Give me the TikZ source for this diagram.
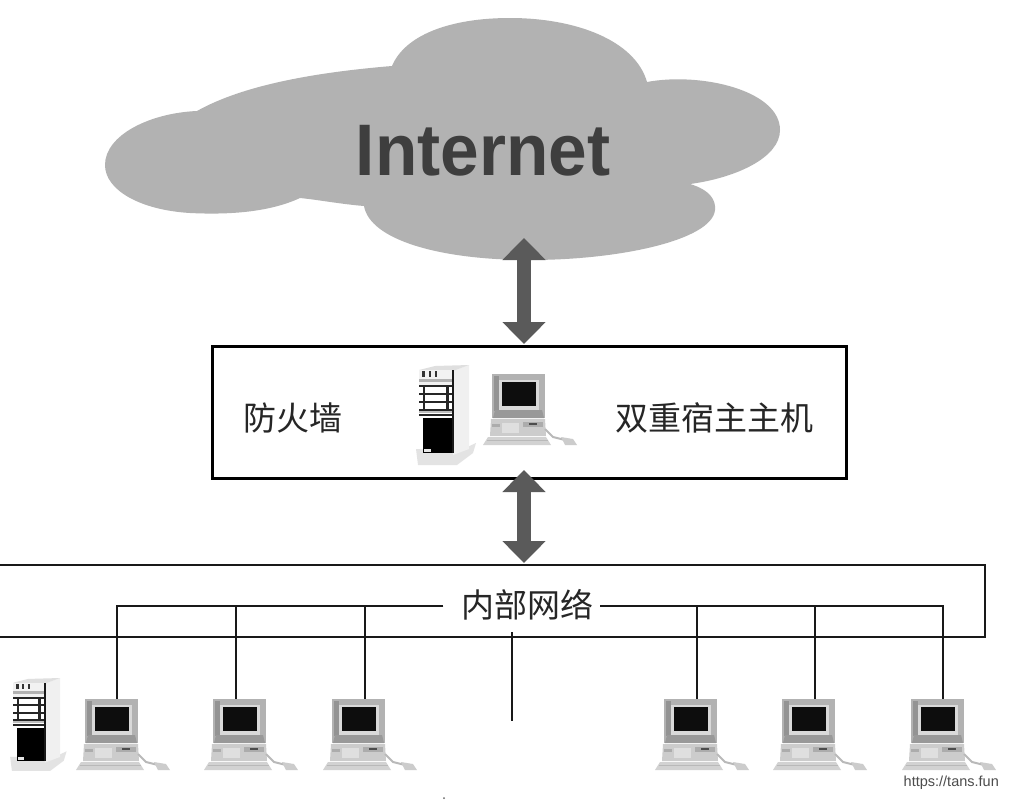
\documentclass[tikz,border=0pt]{standalone}
\usepackage{fontspec}
\setmainfont{Liberation Sans}
\newfontfamily\cjk{Noto Sans CJK SC}
\usetikzlibrary{arrows.meta}
\definecolor{cloudgray}{HTML}{B2B2B2}
\definecolor{arrowgray}{HTML}{5A5A5A}
\definecolor{inkgray}{HTML}{3E3E3E}
\tikzset{
  x=1pt,y=-1pt,
  boxline/.style={draw=black,line width=2.8pt,fill=white,minimum width=634pt,minimum height=132pt,inner sep=0pt},
  netline/.style={draw=black!90,line width=1.8pt},
  dblarrow/.style={draw=arrowgray,line width=14pt,{Triangle[length=22pt,width=42pt]}-{Triangle[length=22pt,width=42pt]},shorten <=0pt,shorten >=0pt},
  cnlabel/.style={font=\cjk\fontsize{33}{33}\selectfont,text=black!85,inner sep=0pt},
  computer/.pic={
    \fill[gray!60] (-1,-1) rectangle (52,43);
    \fill[gray!85] (1,1) rectangle (6,36);
    \fill[gray!30] (6,5) rectangle (46,35);
    \fill[black!95] (9,7) rectangle (43,31);
    \fill[gray!80] (2,35) -- (49,35) -- (51,43) -- (0,43) -- cycle;
    \fill[gray!40] (-2,44) -- (52,44) -- (53,61) -- (-3,61) -- cycle;
    \fill[gray!65] (30,47) rectangle (50,52);
    \fill[black!70] (36,48) rectangle (44,50);
    \fill[gray!25] (9,48) rectangle (26,58);
    \fill[gray!65] (-1,49) rectangle (7,52);
    \fill[gray!35] (-5,62) -- (53,62) -- (58,70) -- (-10,70) -- cycle;
    \fill[gray!55] (-6,65) rectangle (55,66);
    \draw[gray!55,line width=2pt] (52,54) -- (60,62) -- (72,65);
    \fill[gray!40] (68,62) -- (80,64) -- (84,70) -- (72,70) -- cycle;
  },
  server/.pic={
    \fill[gray!22] (-3,84) -- (44,84) -- (57,78) -- (54,88) -- (38,100) -- (-1,100) -- cycle;
    \fill[gray!12] (34,6) -- (50,0) -- (50,84) -- (34,90) -- cycle;
    \fill[gray!25] (0,5) -- (16,1) -- (50,0) -- (34,6) -- cycle;
    \fill[gray!10] (0,5) rectangle (34,22);
    \fill[black] (4,53) rectangle (34,88);
    \fill[black!80] (3,6) rectangle (6,12);
    \fill[black!80] (10,6) rectangle (12,12);
    \fill[black!80] (16,6) rectangle (18,12);
    \fill[gray!60] (0,14) rectangle (33,17);
    \foreach \yy in {20,28,36,44,49}{\fill[black!85] (0,\yy) rectangle (33,\yy+2.2);}
    \fill[black!85] (4,20) rectangle (6,44);
    \fill[black!85] (27,20) rectangle (30,46);
    \fill[gray!50] (0,46) rectangle (33,48);
    \fill[black!90] (33,5) rectangle (35,88);
    \fill[gray!20] (5,84) rectangle (12,87);
  }
}
\begin{document}
\begin{tikzpicture}
\useasboundingbox (0,0) rectangle (1009,801);
\clip (0,0) rectangle (1009,801);
\fill[white] (0,0) rectangle (1009,801);
% cloud
\fill[cloudgray] (105,165)
  .. controls (105,135) and (150,113) .. (197,111)
  .. controls (245,84) and (320,72) .. (392,66)
  .. controls (405,35) and (450,18) .. (510,18)
  .. controls (575,18) and (635,40) .. (647,82)
  .. controls (700,72) and (780,90) .. (780,130)
  .. controls (780,158) and (735,178) .. (690,184)
  .. controls (710,190) and (716,200) .. (715,210)
  .. controls (712,240) and (620,260) .. (530,260)
  .. controls (440,260) and (370,240) .. (364,206)
  .. controls (340,204) and (320,200) .. (300,198)
  .. controls (270,212) and (230,215) .. (190,213)
  .. controls (140,210) and (105,190) .. (105,165) -- cycle;
\node[font=\bfseries\fontsize{73}{73}\selectfont,text=inkgray,xscale=0.95,inner sep=0pt] (inet) at (483,151) {Internet};
% network
\draw[netline] (0,565) -- (985,565) -- (985,637) -- (0,637);
\node[boxline] (fw) at (529.5,412.5) {};
\node[cnlabel,anchor=west] (fwl) at (243,418) {防火墙};
\node[cnlabel,anchor=west] (dual) at (615,418) {双重宿主主机};
\node[cnlabel,anchor=center] (net) at (527,605) {内部网络};
\coordinate (busl) at (443,606);
\coordinate (busr) at (600,606);
\coordinate (d1) at (117,701);
\coordinate (d2) at (236,701);
\coordinate (d3) at (365,701);
\coordinate (d4) at (697,701);
\coordinate (d5) at (815,701);
\coordinate (d6) at (943,701);
\coordinate (stubtop) at (512,632);
\coordinate (stubbot) at (512,721);
\draw[netline] (busl) -| (d1);
\draw[netline] (busl) -| (d2);
\draw[netline] (busl) -| (d3);
\draw[netline] (busr) -| (d4);
\draw[netline] (busr) -| (d5);
\draw[netline] (busr) -| (d6);
\draw[netline] (stubtop) -- (stubbot);
% arrows
\coordinate (a1) at (524,238);
\coordinate (a2) at (524,344);
\coordinate (a3) at (524,470);
\coordinate (a4) at (524,563);
\draw[dblarrow] (a1) -- (a2);
\draw[dblarrow] (a3) -- (a4);
% equipment
\pic at (419,365) {server};
\pic at (493,375) {computer};
\begin{scope}
\clip (0,660) rectangle (1009,770);
\pic[scale=0.94] at (13,678) {server};
\pic at (86,700) {computer};
\pic at (214,700) {computer};
\pic at (333,700) {computer};
\pic at (665,700) {computer};
\pic at (783,700) {computer};
\pic at (912,700) {computer};
\end{scope}
\fill[black!60] (444,798) circle (1);
\node[font=\fontsize{14.5}{14.5}\selectfont,text=black!70,anchor=east,inner sep=0pt] (mark) at (999,783) {https://tans.fun};
\end{tikzpicture}
\end{document}
